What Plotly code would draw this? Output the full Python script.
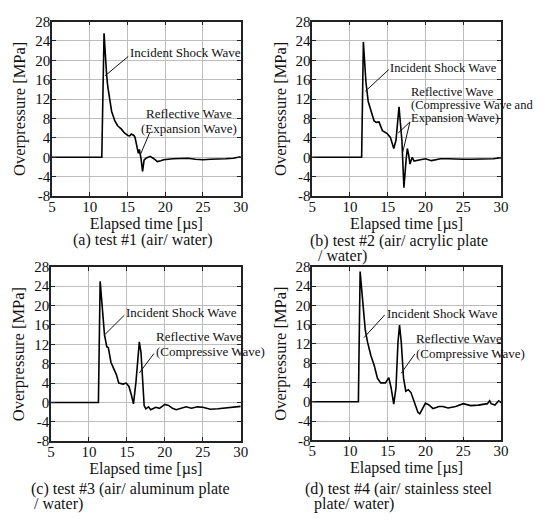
import plotly.graph_objects as go

# ---------------- data ----------------
t_a = [5, 11.6, 11.9, 12.05, 12.25, 12.4, 12.68, 12.9, 13.33, 13.7, 14.2, 14.6, 15.06, 15.3, 15.5, 15.7,
       15.85, 16.0, 16.27, 16.44, 16.57, 16.79, 17.0, 17.2, 17.45, 17.65, 18.0, 18.5, 18.95, 19.4, 19.8,
       21, 22, 23, 24, 25, 26, 27, 28, 29, 30]
p_a = [0, 0, 25.6, 20.5, 16.8, 14.5, 11.5, 9.5, 7.5, 6.5, 5.8, 5.0, 4.5, 4.4, 4.8, 4.7,
       4.5, 4.1, 2.1, 0.8, 1.6, -0.2, -2.9, -0.6, -0.2, 0.0, 0.2, -0.3, -0.9, -0.7, -0.5,
       -0.3, -0.3, -0.2, -0.4, -0.5, -0.4, -0.4, -0.3, -0.2, 0.1]

t_b = [5, 11.55, 11.78, 11.95, 12.12, 12.42, 12.77, 13.2, 13.5, 13.85, 14.3, 14.93, 15.36, 15.8, 16.1,
       16.5, 16.88, 17.15, 17.44, 17.6, 17.78, 17.95, 18.25, 18.5, 19.0, 19.5, 20.0, 20.8, 21.5, 22,
       23, 24, 25, 26, 27, 28, 29, 30]
p_b = [0, 0, 23.8, 19.5, 15.5, 11.5, 9.5, 7.5, 7.2, 7.3, 5.5, 4.9, 4.1, 1.8, 3.5,
       10.4, 3.5, -6.3, -0.5, 1.8, 0.5, -1.4, 0.0, -0.8, -0.6, -0.5, -0.3, -0.7, -0.5, -0.3,
       -0.3, -0.4, -0.4, -0.4, -0.4, -0.4, -0.3, -0.1]

t_c = [5, 11.25, 11.48, 11.8, 12.05, 12.35, 12.56, 12.9, 13.2, 13.63, 13.93, 14.5, 14.92, 15.27, 15.57,
       15.87, 16.2, 16.43, 16.64, 16.86, 17.07, 17.28, 17.5, 17.85, 18.14, 18.8, 19.3, 20.0, 20.5, 21.0,
       21.5, 22.0, 22.8, 23.5, 24.3, 25.0, 26.0, 27.0, 28.0, 29.0, 30.0]
p_c = [0, 0, 25.0, 17.7, 14.0, 11.5, 11.3, 8.3, 7.3, 5.7, 4.0, 3.8, 4.0, 3.3, 1.7,
       -0.3, 4.3, 9.7, 12.5, 10.3, 3.7, -0.7, -1.3, -0.9, -1.5, -1.0, -1.2, -0.4, -0.6, -1.2,
       -1.5, -1.3, -0.9, -1.2, -0.9, -1.0, -1.4, -1.3, -1.1, -1.0, -0.8]

t_d = [5, 11.12, 11.35, 11.7, 12.03, 12.34, 12.77, 13.2, 13.64, 14.07, 14.7, 15.15, 15.45, 15.8, 16.1,
       16.36, 16.57, 16.8, 17.1, 17.4, 17.74, 18.08, 18.5, 19.0, 19.25, 19.6, 20.0, 20.5, 21.0, 21.8,
       22.3, 23.0, 24.0, 25.0, 25.3, 26.0, 27.0, 27.5, 28.2, 28.5, 28.7, 29.2, 29.5, 29.7, 30.0]
p_d = [0, 0, 27.0, 20.3, 14.9, 12.3, 9.6, 7.6, 4.9, 3.9, 3.9, 5.0, 2.9, -0.5, 2.9,
       12.3, 15.9, 12.3, 4.9, 2.2, 2.5, 1.9, 0.2, -2.2, -2.5, -1.5, -0.3, -0.7, -1.4, -1.0,
       -1.0, -1.3, -1.0, -0.4, -0.5, -0.8, -0.7, -0.6, -0.4, 0.2, -0.4, -0.7, -0.1, 0.2, -0.2]

x_ticks = [5, 10, 15, 20, 25, 30]
y_ticks = [-8, -4, 0, 4, 8, 12, 16, 20, 24, 28]
x_title = "Elapsed time [µs]"
y_title = "Overpressure [MPa]"

captions = [
    ["(a) test #1 (air/ water)"],
    ["(b) test #2 (air/ acrylic plate", "/ water)"],
    ["(c) test #3 (air/ aluminum plate", "/ water)"],
    ["(d) test #4 (air/ stainless steel", "plate/ water)"],
]

# callout texts: (text, x, y) in data coords, left anchored
labels = [
    [("Incident Shock Wave", 15.1, 21.6), ("Reflective Wave", 17.2, 9.0), ("(Expansion Wave)", 16.55, 6.0)],
    [("Incident Shock Wave", 15.1, 18.4), ("Reflective Wave", 17.8, 13.5),
     ("(Compressive Wave and", 17.8, 10.8), ("Expansion Wave)", 17.8, 8.1)],
    [("Incident Shock Wave", 14.66, 18.6), ("Reflective Wave", 18.53, 13.6), ("(Compressive Wave)", 18.53, 10.6)],
    [("Incident Shock Wave", 14.6, 18.4), ("Reflective Wave", 18.47, 13.1), ("(Compressive Wave)", 18.47, 10.1)],
]
label_size = [13, 12.5, 13, 13]
# leader lines: (x0, y0, x1, y1) in data coords
leaders = [
    [(15.1, 20.8, 12.03, 16.8), (17.95, 5.1, 16.7, 0.5)],
    [(15.15, 18.1, 12.03, 13.6), (17.95, 7.3, 16.4, 5.0), (17.95, 7.3, 17.0, 1.1)],
    [(14.66, 18.0, 11.96, 13.8), (18.57, 10.1, 16.64, 6.1)],
    [(14.6, 18.0, 11.87, 13.3), (18.6, 9.9, 16.79, 5.9)],
]

# ---------------- layout geometry ----------------
W, H = 553, 520
panels = [  # (left, right, top, bottom) in pixels
    (49, 242, 14, 194),
    (315, 508, 14, 194),
    (48, 242, 267, 447),
    (315, 508, 267, 446),
]
caption_pos = [  # per line: (x_px, y_center_px, anchor)
    [(142, 239, "center")],
    [(311, 240, "left"), (319, 256, "left")],
    [(26, 496, "left"), (29, 512, "left")],
    [(306, 496, "left"), (315, 512, "left")],
]

FONT = "Liberation Serif, Times New Roman, DejaVu Serif, serif"
fig = go.Figure()
series = [(t_a, p_a), (t_b, p_b), (t_c, p_c), (t_d, p_d)]
annotations = []
shapes = []

for i, ((t, p), (l, r, top, bot)) in enumerate(zip(series, panels)):
    sfx = "" if i == 0 else str(i + 1)
    xa, ya = "x" + sfx, "y" + sfx
    fig.add_trace(go.Scatter(x=t, y=p, mode="lines", xaxis=xa, yaxis=ya,
                             line=dict(color="black", width=1.6), showlegend=False,
                             hoverinfo="skip"))
    axis_common = dict(showline=True, linecolor="#222", linewidth=1.5, mirror="ticks",
                       ticks="inside", ticklen=4, tickcolor="#222",
                       showgrid=True, gridcolor="#bdbdbd", gridwidth=1, zeroline=False,
                       tickfont=dict(family=FONT, size=15, color="#111"))
    fig.update_layout(**{
        "xaxis" + sfx: dict(domain=[l / W, r / W], anchor=ya, range=[5, 30],
                            tickvals=x_ticks, ticktext=[str(v) for v in x_ticks],
                            ticklabelstandoff=-4,
                            title=dict(text=x_title, standoff=0,
                                       font=dict(family=FONT, size=16, color="#111")),
                            **axis_common),
        "yaxis" + sfx: dict(domain=[1 - bot / H, 1 - top / H], anchor=xa, range=[-8, 28],
                            tickvals=y_ticks, ticktext=[str(v) for v in y_ticks],
                            ticklabelstandoff=-3,
                            title=dict(text=y_title, standoff=5,
                                       font=dict(family=FONT, size=16.5, color="#111")),
                            **axis_common),
    })
    for (txt, x, y) in labels[i]:
        annotations.append(dict(text=txt, x=x, y=y, xref=xa, yref=ya, xanchor="left",
                                yanchor="middle", showarrow=False,
                                font=dict(family=FONT, size=label_size[i], color="#111")))
    for (x0, y0, x1, y1) in leaders[i]:
        shapes.append(dict(type="line", xref=xa, yref=ya, x0=x0, y0=y0, x1=x1, y1=y1,
                           line=dict(color="#111", width=1)))
    for txt, (px, py, anc) in zip(captions[i], caption_pos[i]):
        annotations.append(dict(text=txt, x=px / W, y=1 - py / H, xref="paper", yref="paper",
                                xanchor=anc, yanchor="middle", showarrow=False,
                                font=dict(family=FONT, size=16, color="#111")))

fig.update_layout(width=W, height=H, margin=dict(l=0, r=0, t=0, b=0),
                  paper_bgcolor="white", plot_bgcolor="white",
                  annotations=annotations, shapes=shapes)
fig.write_html("out.html", config={"displayModeBar": False},
               post_script="document.body.style.margin='0';document.body.style.overflow='hidden';")
